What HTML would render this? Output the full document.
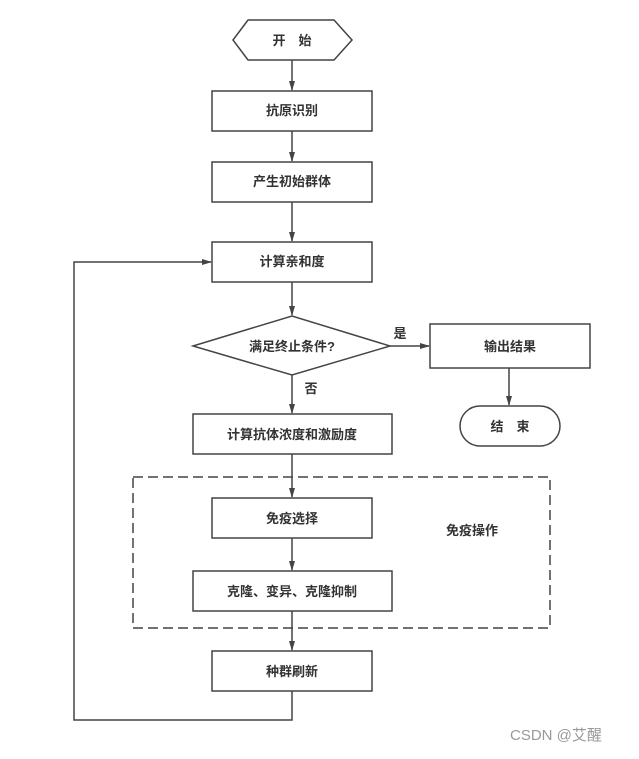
<!DOCTYPE html>
<html><head><meta charset="utf-8"><style>
body{margin:0;background:#fff}
text{font-family:"Liberation Sans","Noto Sans CJK SC",sans-serif;font-size:13px;fill:#333;font-weight:bold}
</style></head><body>
<svg width="639" height="754" viewBox="0 0 639 754" xmlns="http://www.w3.org/2000/svg">
<defs><marker id="a" markerWidth="10" markerHeight="8" refX="9" refY="4" orient="auto" markerUnits="userSpaceOnUse"><path d="M0,1 L10,4 L0,7 Z" fill="#444"/></marker></defs>
<g stroke="#444" stroke-width="1.5" fill="none">
<polygon points="233,40 248,20 334,20 352,40 334,60 248,60"/>
<rect x="212" y="91" width="160" height="40"/>
<rect x="212" y="162" width="160" height="40"/>
<rect x="212" y="242" width="160" height="40"/>
<polygon points="193,346 292,316 390,346 292,375"/>
<rect x="430" y="324" width="160" height="44"/>
<rect x="460" y="406" width="100" height="40" rx="20"/>
<rect x="193" y="414" width="199" height="40"/>
<rect x="133" y="477" width="417" height="151" stroke-dasharray="10,5"/>
<rect x="212" y="498" width="160" height="40"/>
<rect x="193" y="571" width="199" height="40"/>
<rect x="212" y="651" width="160" height="40"/>
<line x1="292" y1="60" x2="292" y2="90" marker-end="url(#a)"/>
<line x1="292" y1="131" x2="292" y2="161" marker-end="url(#a)"/>
<line x1="292" y1="202" x2="292" y2="241" marker-end="url(#a)"/>
<line x1="292" y1="282" x2="292" y2="315" marker-end="url(#a)"/>
<line x1="390" y1="346" x2="429" y2="346" marker-end="url(#a)"/>
<line x1="509" y1="368" x2="509" y2="405" marker-end="url(#a)"/>
<line x1="292" y1="375" x2="292" y2="413" marker-end="url(#a)"/>
<line x1="292" y1="454" x2="292" y2="497" marker-end="url(#a)"/>
<line x1="292" y1="538" x2="292" y2="570" marker-end="url(#a)"/>
<line x1="292" y1="611" x2="292" y2="650" marker-end="url(#a)"/>
<polyline points="292,691 292,720 74,720 74,262 211,262" marker-end="url(#a)"/>
</g>
<g text-anchor="middle">
<text x="292" y="45">开　始</text>
<text x="292" y="115">抗原识别</text>
<text x="292" y="186">产生初始群体</text>
<text x="292" y="266">计算亲和度</text>
<text x="292" y="351">满足终止条件?</text>
<text x="400" y="338">是</text>
<text x="311" y="393">否</text>
<text x="510" y="351">输出结果</text>
<text x="510" y="431">结　束</text>
<text x="292" y="439">计算抗体浓度和激励度</text>
<text x="292" y="523">免疫选择</text>
<text x="472" y="535">免疫操作</text>
<text x="292" y="596">克隆、变异、克隆抑制</text>
<text x="292" y="676">种群刷新</text>
</g>
<text x="510" y="740" style="font-weight:normal;font-size:15px;fill:#999">CSDN @艾醒</text>
</svg>
</body></html>
